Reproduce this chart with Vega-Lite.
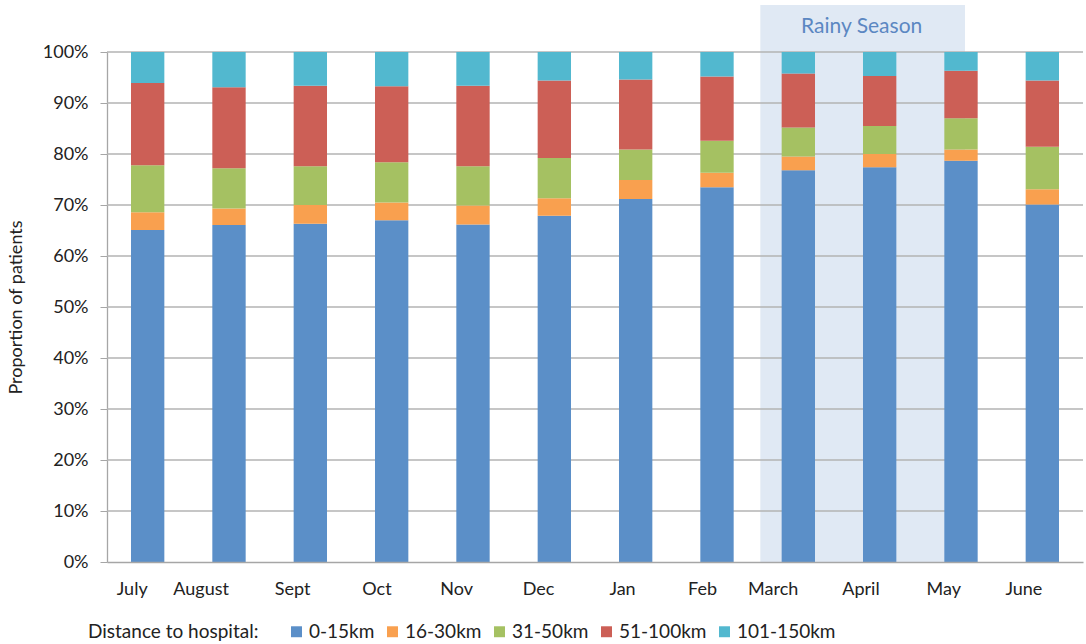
{
  "$schema": "https://vega.github.io/schema/vega-lite/v6.json",
  "width": 976,
  "height": 510,
  "autosize": "none",
  "padding": {"left": 107, "top": 52, "right": 3, "bottom": 82},
  "background": "white",
  "config": {
    "view": {"stroke": null},
    "font": "Lato",
    "axis": {"labelFont": "Lato", "titleFont": "Lato", "labelColor": "#222", "titleColor": "#222"}
  },
  "datasets": {
    "bars": [
      {"month": "July", "distance": "0-15km", "rank": 1, "pct": 65.1},
      {"month": "July", "distance": "16-30km", "rank": 2, "pct": 3.5},
      {"month": "July", "distance": "31-50km", "rank": 3, "pct": 9.2},
      {"month": "July", "distance": "51-100km", "rank": 4, "pct": 16.1},
      {"month": "July", "distance": "101-150km", "rank": 5, "pct": 6.1},
      {"month": "August", "distance": "0-15km", "rank": 1, "pct": 66.1},
      {"month": "August", "distance": "16-30km", "rank": 2, "pct": 3.2},
      {"month": "August", "distance": "31-50km", "rank": 3, "pct": 7.9},
      {"month": "August", "distance": "51-100km", "rank": 4, "pct": 15.9},
      {"month": "August", "distance": "101-150km", "rank": 5, "pct": 6.9},
      {"month": "Sept", "distance": "0-15km", "rank": 1, "pct": 66.3},
      {"month": "Sept", "distance": "16-30km", "rank": 2, "pct": 3.7},
      {"month": "Sept", "distance": "31-50km", "rank": 3, "pct": 7.6},
      {"month": "Sept", "distance": "51-100km", "rank": 4, "pct": 15.8},
      {"month": "Sept", "distance": "101-150km", "rank": 5, "pct": 6.6},
      {"month": "Oct", "distance": "0-15km", "rank": 1, "pct": 67.0},
      {"month": "Oct", "distance": "16-30km", "rank": 2, "pct": 3.5},
      {"month": "Oct", "distance": "31-50km", "rank": 3, "pct": 7.9},
      {"month": "Oct", "distance": "51-100km", "rank": 4, "pct": 14.9},
      {"month": "Oct", "distance": "101-150km", "rank": 5, "pct": 6.7},
      {"month": "Nov", "distance": "0-15km", "rank": 1, "pct": 66.2},
      {"month": "Nov", "distance": "16-30km", "rank": 2, "pct": 3.7},
      {"month": "Nov", "distance": "31-50km", "rank": 3, "pct": 7.7},
      {"month": "Nov", "distance": "51-100km", "rank": 4, "pct": 15.8},
      {"month": "Nov", "distance": "101-150km", "rank": 5, "pct": 6.6},
      {"month": "Dec", "distance": "0-15km", "rank": 1, "pct": 67.9},
      {"month": "Dec", "distance": "16-30km", "rank": 2, "pct": 3.4},
      {"month": "Dec", "distance": "31-50km", "rank": 3, "pct": 7.9},
      {"month": "Dec", "distance": "51-100km", "rank": 4, "pct": 15.2},
      {"month": "Dec", "distance": "101-150km", "rank": 5, "pct": 5.6},
      {"month": "Jan", "distance": "0-15km", "rank": 1, "pct": 71.2},
      {"month": "Jan", "distance": "16-30km", "rank": 2, "pct": 3.7},
      {"month": "Jan", "distance": "31-50km", "rank": 3, "pct": 6.0},
      {"month": "Jan", "distance": "51-100km", "rank": 4, "pct": 13.7},
      {"month": "Jan", "distance": "101-150km", "rank": 5, "pct": 5.4},
      {"month": "Feb", "distance": "0-15km", "rank": 1, "pct": 73.5},
      {"month": "Feb", "distance": "16-30km", "rank": 2, "pct": 2.8},
      {"month": "Feb", "distance": "31-50km", "rank": 3, "pct": 6.3},
      {"month": "Feb", "distance": "51-100km", "rank": 4, "pct": 12.6},
      {"month": "Feb", "distance": "101-150km", "rank": 5, "pct": 4.8},
      {"month": "March", "distance": "0-15km", "rank": 1, "pct": 76.8},
      {"month": "March", "distance": "16-30km", "rank": 2, "pct": 2.7},
      {"month": "March", "distance": "31-50km", "rank": 3, "pct": 5.7},
      {"month": "March", "distance": "51-100km", "rank": 4, "pct": 10.6},
      {"month": "March", "distance": "101-150km", "rank": 5, "pct": 4.2},
      {"month": "April", "distance": "0-15km", "rank": 1, "pct": 77.4},
      {"month": "April", "distance": "16-30km", "rank": 2, "pct": 2.6},
      {"month": "April", "distance": "31-50km", "rank": 3, "pct": 5.5},
      {"month": "April", "distance": "51-100km", "rank": 4, "pct": 9.8},
      {"month": "April", "distance": "101-150km", "rank": 5, "pct": 4.7},
      {"month": "May", "distance": "0-15km", "rank": 1, "pct": 78.7},
      {"month": "May", "distance": "16-30km", "rank": 2, "pct": 2.2},
      {"month": "May", "distance": "31-50km", "rank": 3, "pct": 6.1},
      {"month": "May", "distance": "51-100km", "rank": 4, "pct": 9.3},
      {"month": "May", "distance": "101-150km", "rank": 5, "pct": 3.7},
      {"month": "June", "distance": "0-15km", "rank": 1, "pct": 70.1},
      {"month": "June", "distance": "16-30km", "rank": 2, "pct": 3.0},
      {"month": "June", "distance": "31-50km", "rank": 3, "pct": 8.3},
      {"month": "June", "distance": "51-100km", "rank": 4, "pct": 13.0},
      {"month": "June", "distance": "101-150km", "rank": 5, "pct": 5.6}
    ],
    "grid": [
      {"v": 10}, {"v": 20}, {"v": 30}, {"v": 40}, {"v": 50},
      {"v": 60}, {"v": 70}, {"v": 80}, {"v": 90}, {"v": 100}
    ],
    "season": [
      {"label": "Rainy Season", "start": "March", "end": "May"}
    ]
  },
  "layer": [
    {
      "data": {"name": "season"},
      "mark": {"type": "rect", "color": "#e0e9f4", "xOffset": -38, "x2Offset": 4},
      "encoding": {
        "x": {"field": "start", "type": "nominal"},
        "x2": {"field": "end"},
        "y": {"datum": 109.2, "type": "quantitative"},
        "y2": {"datum": 0}
      }
    },
    {
      "data": {"name": "season"},
      "mark": {"type": "text", "color": "#5b87c2", "fontSize": 21, "font": "Lato", "dx": -18},
      "encoding": {
        "x": {"datum": "April", "type": "nominal"},
        "y": {"datum": 104.9, "type": "quantitative"},
        "text": {"field": "label"}
      }
    },
    {
      "data": {"name": "grid"},
      "mark": {"type": "rule", "color": "#b3b3b3", "strokeWidth": 1.3},
      "encoding": {
        "y": {"field": "v", "type": "quantitative"}
      }
    },
    {
      "data": {"name": "bars"},
      "mark": {"type": "bar"},
      "encoding": {
        "x": {
          "field": "month",
          "type": "nominal",
          "title": null,
          "sort": ["July", "August", "Sept", "Oct", "Nov", "Dec", "Jan", "Feb", "March", "April", "May", "June"],
          "scale": {
            "domain": ["July", "August", "Sept", "Oct", "Nov", "Dec", "Jan", "Feb", "March", "April", "May", "June"],
            "paddingInner": 0.59,
            "paddingOuter": 0.295
          },
          "axis": {
            "labelAngle": 0,
            "labelFontSize": 18,
            "labelPadding": 27,
            "ticks": false,
            "domainColor": "#a6a6a6",
            "domainWidth": 1.3,
            "grid": false
          }
        },
        "y": {
          "field": "pct",
          "type": "quantitative",
          "stack": "zero",
          "title": "Proportion of patients",
          "scale": {"domain": [0, 100]},
          "axis": {
            "values": [0, 10, 20, 30, 40, 50, 60, 70, 80, 90, 100],
            "labelExpr": "datum.value + '%'",
            "labelFontSize": 18,
            "labelPadding": 12,
            "tickSize": 7,
            "tickColor": "#a6a6a6",
            "domainColor": "#a6a6a6",
            "domainWidth": 1.3,
            "grid": false,
            "titleFontSize": 18,
            "titleFontWeight": "normal",
            "titlePadding": 17
          }
        },
        "color": {
          "field": "distance",
          "type": "nominal",
          "sort": ["0-15km", "16-30km", "31-50km", "51-100km", "101-150km"],
          "scale": {
            "domain": ["0-15km", "16-30km", "31-50km", "51-100km", "101-150km"],
            "range": ["#5b8fc8", "#f9a04f", "#a5c162", "#cc5f56", "#52b8cf"]
          },
          "legend": {
            "title": "Distance to hospital:",
            "orient": "none",
            "legendX": -19,
            "legendY": 570,
            "direction": "horizontal",
            "titleOrient": "left",
            "titleFontSize": 19,
            "titleFontWeight": "normal",
            "titleColor": "#222",
            "titlePadding": 28,
            "labelFontSize": 19,
            "labelColor": "#222",
            "labelOffset": 3,
            "symbolType": "square",
            "symbolSize": 120,
            "symbolStrokeWidth": 0,
            "columnPadding": 8
          }
        },
        "order": {"field": "rank", "type": "quantitative", "sort": "ascending"}
      }
    }
  ]
}
